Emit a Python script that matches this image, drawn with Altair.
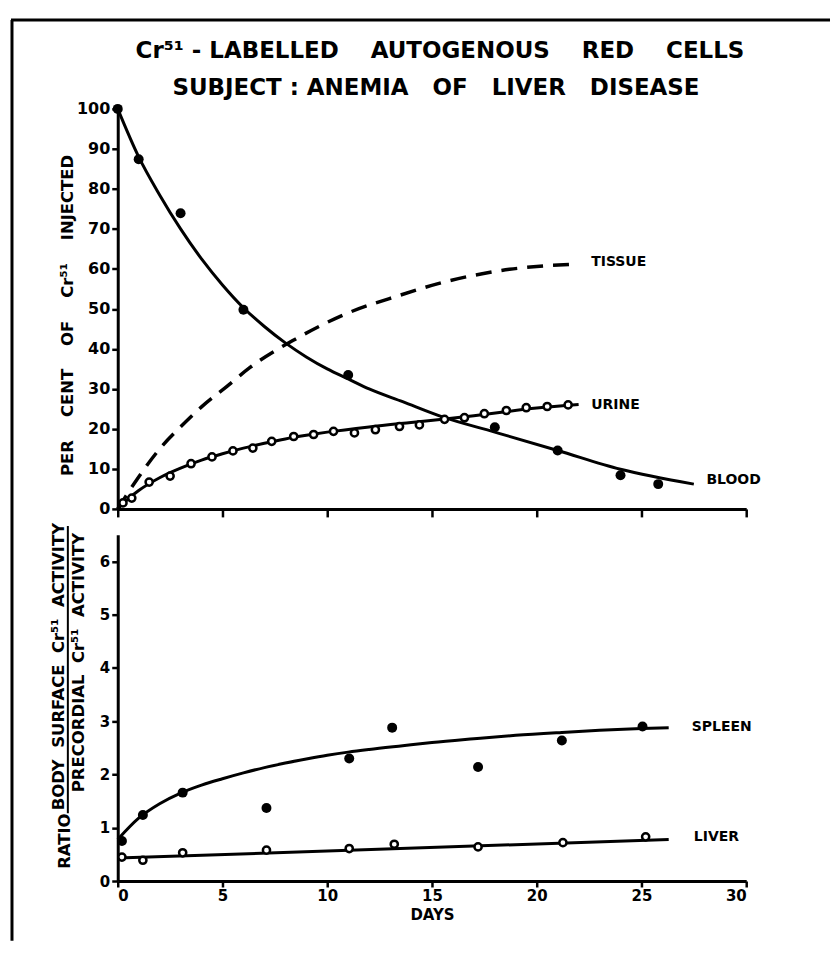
import altair as alt
import pandas as pd

# ---------------- data ----------------
BLOOD_DAYS = [0, 1.0, 3.0, 6.0, 11.0, 18.0, 21.0, 24.0, 25.8]
BLOOD_PCT = [100, 87.4, 73.9, 49.8, 33.5, 20.4, 14.6, 8.4, 6.2]
BLOOD_CURVE_DAYS = [0, 1, 2, 3, 4, 5, 6, 7, 8, 9, 10, 11, 12, 13.6, 15.5, 18, 21, 24, 27.5]
BLOOD_CURVE_PCT = [100, 88, 78.5, 70, 62.5, 56, 50.3, 45.6, 41.5, 38, 35, 32.5, 30, 26.8,
                   23, 19.2, 14.6, 9.9, 6.2]

URINE_DAYS = [0.25, 0.67, 1.5, 2.5, 3.5, 4.5, 5.5, 6.45, 7.35, 8.4, 9.35, 10.3,
              11.3, 12.3, 13.45, 14.4, 15.6, 16.55, 17.5, 18.55, 19.5, 20.5, 21.5]
URINE_PCT = [1.5, 2.7, 6.7, 8.2, 11.3, 13.0, 14.5, 15.2, 16.9, 18.1, 18.6, 19.4,
             19.0, 19.8, 20.6, 21.0, 22.4, 22.8, 23.8, 24.6, 25.3, 25.6, 26.0]
URINE_CURVE_DAYS = [0, 0.5, 1, 2, 3, 4, 5, 6, 7, 8, 9, 10, 12, 14, 15.5, 17, 18.5, 20, 22]
URINE_CURVE_PCT = [0, 2.5, 4.6, 7.8, 10.2, 12.2, 13.8, 15.2, 16.4, 17.5, 18.4, 19.2,
                   20.5, 21.6, 22.4, 23.3, 24.3, 25.2, 26.1]

TISSUE_CURVE_DAYS = [0, 1, 2, 3, 4, 5.3, 6.3, 8.5, 11, 13.4, 15.8, 17.4, 18.7, 20, 22]
TISSUE_CURVE_PCT = [0, 8, 15, 20.5, 25.5, 31, 35.3, 42.5, 49, 53.3, 57, 58.8, 59.9, 60.6, 61.2]

SPLEEN_DAYS = [0.2, 1.2, 3.1, 7.1, 11.05, 13.1, 17.2, 21.2, 25.05]
SPLEEN_RATIO = [0.75, 1.24, 1.66, 1.37, 2.3, 2.88, 2.14, 2.64, 2.9]
SPLEEN_CURVE_DAYS = [0, 1, 2, 3, 4, 5, 6, 7, 8, 9, 10, 11, 12, 13.6, 15, 17, 19, 21.2, 23, 25, 26.3]
SPLEEN_CURVE_RATIO = [0.78, 1.18, 1.45, 1.65, 1.80, 1.92, 2.03, 2.13, 2.215, 2.29, 2.36, 2.42,
                      2.47, 2.54, 2.60, 2.67, 2.735, 2.79, 2.83, 2.865, 2.88]

LIVER_DAYS = [0.2, 1.2, 3.1, 7.1, 11.05, 13.2, 17.2, 21.25, 25.2]
LIVER_RATIO = [0.45, 0.39, 0.53, 0.58, 0.61, 0.69, 0.64, 0.72, 0.83]
LIVER_LINE_DAYS = [0, 26.3]
LIVER_LINE_RATIO = [0.43, 0.78]

TOP_LABELS = ["TISSUE", "URINE", "BLOOD"]
TOP_LABEL_DAYS = [22.6, 22.6, 28.1]
TOP_LABEL_PCT = [61.6, 26.0, 7.2]
BOTTOM_LABELS = ["SPLEEN", "LIVER"]
BOTTOM_LABEL_DAYS = [27.4, 27.5]
BOTTOM_LABEL_RATIO = [2.9, 0.83]

X_TICKS = [0, 5, 10, 15, 20, 25, 30]
TOP_Y_TICKS = [0, 10, 20, 30, 40, 50, 60, 70, 80, 90, 100]
BOTTOM_Y_TICKS = [0, 1, 2, 3, 4, 5, 6]

NB = "\u00a0"
TITLE_LINES = [
    "Cr\u2075\u00b9 - LABELLED" + NB * 4 + "AUTOGENOUS" + NB * 4 + "RED" + NB * 4 + "CELLS",
    "SUBJECT : ANEMIA" + NB * 3 + "OF" + NB * 3 + "LIVER" + NB * 3 + "DISEASE",
]
TOP_Y_TITLE = "PER" + NB * 4 + "CENT" + NB * 4 + "OF" + NB * 4 + "Cr\u2075\u00b9" + NB * 4 + "INJECTED"
RATIO_WORD = "RATIO"
NUMERATOR = "BODY" + NB * 2 + "SURFACE" + NB * 2 + "Cr\u2075\u00b9" + NB * 2 + "ACTIVITY"
DENOMINATOR = "PRECORDIAL" + NB * 2 + "Cr\u2075\u00b9" + NB * 2 + "ACTIVITY"
X_TITLE = "DAYS"

FONT = "DejaVu Sans"
W = 630
H_TOP = 401
H_BOT = 347

# ---------------- frames ----------------
blood_pts = pd.DataFrame({"day": BLOOD_DAYS, "v": BLOOD_PCT})
blood_curve = pd.DataFrame({"day": BLOOD_CURVE_DAYS, "v": BLOOD_CURVE_PCT})
urine_pts = pd.DataFrame({"day": URINE_DAYS, "v": URINE_PCT})
urine_curve = pd.DataFrame({"day": URINE_CURVE_DAYS, "v": URINE_CURVE_PCT})
tissue_curve = pd.DataFrame({"day": TISSUE_CURVE_DAYS, "v": TISSUE_CURVE_PCT})
top_labels = pd.DataFrame({"day": TOP_LABEL_DAYS, "v": TOP_LABEL_PCT, "t": TOP_LABELS})

spleen_pts = pd.DataFrame({"day": SPLEEN_DAYS, "v": SPLEEN_RATIO})
spleen_curve = pd.DataFrame({"day": SPLEEN_CURVE_DAYS, "v": SPLEEN_CURVE_RATIO})
liver_pts = pd.DataFrame({"day": LIVER_DAYS, "v": LIVER_RATIO})
liver_line = pd.DataFrame({"day": LIVER_LINE_DAYS, "v": LIVER_LINE_RATIO})
bottom_labels = pd.DataFrame({"day": BOTTOM_LABEL_DAYS, "v": BOTTOM_LABEL_RATIO, "t": BOTTOM_LABELS})

one = pd.DataFrame({"a": [0]})

FILLED = dict(shape="circle", filled=True, color="black", size=100, opacity=1)
OPEN = dict(shape="circle", filled=True, fill="white", stroke="black", strokeWidth=2.5, size=52, opacity=1)

# ---------------- top panel ----------------
xs_top = alt.X("day:Q", scale=alt.Scale(domain=[0, 30], nice=False, zero=False),
               axis=alt.Axis(values=X_TICKS, labels=False, title=None, tickSize=8))
ys_top = alt.Y("v:Q", scale=alt.Scale(domain=[0, 100], nice=False),
               axis=alt.Axis(values=TOP_Y_TICKS, title=None, tickSize=6, labelPadding=2, labelFontSize=16))

def xy_top():
    return dict(x=xs_top, y=ys_top)

t_blood_line = alt.Chart(blood_curve).mark_line(color="black", strokeWidth=3, interpolate="monotone").encode(**xy_top())
t_urine_line = alt.Chart(urine_curve).mark_line(color="black", strokeWidth=3, interpolate="monotone").encode(**xy_top())
t_tissue_line = alt.Chart(tissue_curve).mark_line(color="black", strokeWidth=3.5, strokeDash=[16, 10],
                                                  interpolate="monotone").encode(**xy_top())
t_blood_pts = alt.Chart(blood_pts).mark_point(**FILLED).encode(**xy_top())
t_urine_pts = alt.Chart(urine_pts).mark_point(**OPEN).encode(**xy_top())
t_labels = alt.Chart(top_labels).mark_text(align="left", baseline="middle", font=FONT, fontWeight="bold",
                                           fontSize=14, color="black").encode(x="day:Q", y="v:Q", text="t:N")

title_df = pd.DataFrame({"t": TITLE_LINES, "xx": [323, 319], "yy": [-58, -21]})
t_title = alt.Chart(title_df).mark_text(align="center", baseline="middle", font=FONT, fontWeight="bold",
                                        fontSize=23, color="black").encode(
    x=alt.X("xx:Q", scale=None), y=alt.Y("yy:Q", scale=None), text="t:N")

t_ytitle = alt.Chart(pd.DataFrame({"t": [TOP_Y_TITLE]})).mark_text(
    align="center", baseline="middle", angle=270, font=FONT, fontWeight="bold", fontSize=16.5, color="black"
).encode(x=alt.value(-50), y=alt.value(207), text="t:N")

frame_v = alt.Chart(one).mark_rule(color="black", strokeWidth=3).encode(
    x=alt.value(-106), y=alt.value(-89), y2=alt.value(834))
frame_h = alt.Chart(one).mark_rule(color="black", strokeWidth=3).encode(
    x=alt.value(-107), x2=alt.value(714), y=alt.value(-89))

top = alt.layer(
    frame_v, frame_h, t_title, t_ytitle,
    t_tissue_line, t_blood_line, t_urine_line, t_blood_pts, t_urine_pts, t_labels
).properties(width=W, height=H_TOP)

# ---------------- bottom panel ----------------
xs_bot = alt.X("day:Q", scale=alt.Scale(domain=[0, 30], nice=False, zero=False),
               axis=alt.Axis(values=X_TICKS, title=X_TITLE, tickSize=6, labelPadding=2, titlePadding=4,
                             titleFont=FONT, titleFontWeight="bold", titleFontSize=15, titleColor="black"))
ys_bot = alt.Y("v:Q", scale=alt.Scale(domain=[0, 6.5], nice=False),
               axis=alt.Axis(values=BOTTOM_Y_TICKS, title=None, tickSize=6, labelPadding=2))

def xy_bot():
    return dict(x=xs_bot, y=ys_bot)

b_spleen_line = alt.Chart(spleen_curve).mark_line(color="black", strokeWidth=3, interpolate="monotone").encode(**xy_bot())
b_liver_line = alt.Chart(liver_line).mark_line(color="black", strokeWidth=3).encode(**xy_bot())
b_spleen_pts = alt.Chart(spleen_pts).mark_point(**FILLED).encode(**xy_bot())
b_liver_pts = alt.Chart(liver_pts).mark_point(**OPEN).encode(**xy_bot())
b_labels = alt.Chart(bottom_labels).mark_text(align="left", baseline="middle", font=FONT, fontWeight="bold",
                                              fontSize=14, color="black").encode(x="day:Q", y="v:Q", text="t:N")

rot = dict(align="center", baseline="middle", angle=270, font=FONT, fontWeight="bold", fontSize=16.5, color="black")
b_ratio = alt.Chart(pd.DataFrame({"t": [RATIO_WORD]})).mark_text(**rot).encode(
    x=alt.value(-53), y=alt.value(307), text="t:N")
b_num = alt.Chart(pd.DataFrame({"t": [NUMERATOR]})).mark_text(**rot).encode(
    x=alt.value(-59), y=alt.value(132), text="t:N")
b_den = alt.Chart(pd.DataFrame({"t": [DENOMINATOR]})).mark_text(**rot).encode(
    x=alt.value(-39), y=alt.value(128), text="t:N")
b_bar = alt.Chart(one).mark_rule(color="black", strokeWidth=2).encode(
    x=alt.value(-50), y=alt.value(-9), y2=alt.value(279))

bottom = alt.layer(
    b_ratio, b_num, b_den, b_bar,
    b_liver_line, b_spleen_line, b_spleen_pts, b_liver_pts, b_labels
).properties(width=W, height=H_BOT)

chart = alt.vconcat(top, bottom, spacing=26, bounds="flush").properties(
    padding={"left": 1, "top": 9, "right": 0, "bottom": 0}
).configure_view(stroke=None).configure_axis(
    grid=False, domainColor="black", domainWidth=3, tickColor="black", tickWidth=2.5,
    labelFont=FONT, labelFontWeight="bold", labelFontSize=15, labelColor="black",
)

chart.save("out.html", embed_options={"renderer": "svg", "actions": False})
